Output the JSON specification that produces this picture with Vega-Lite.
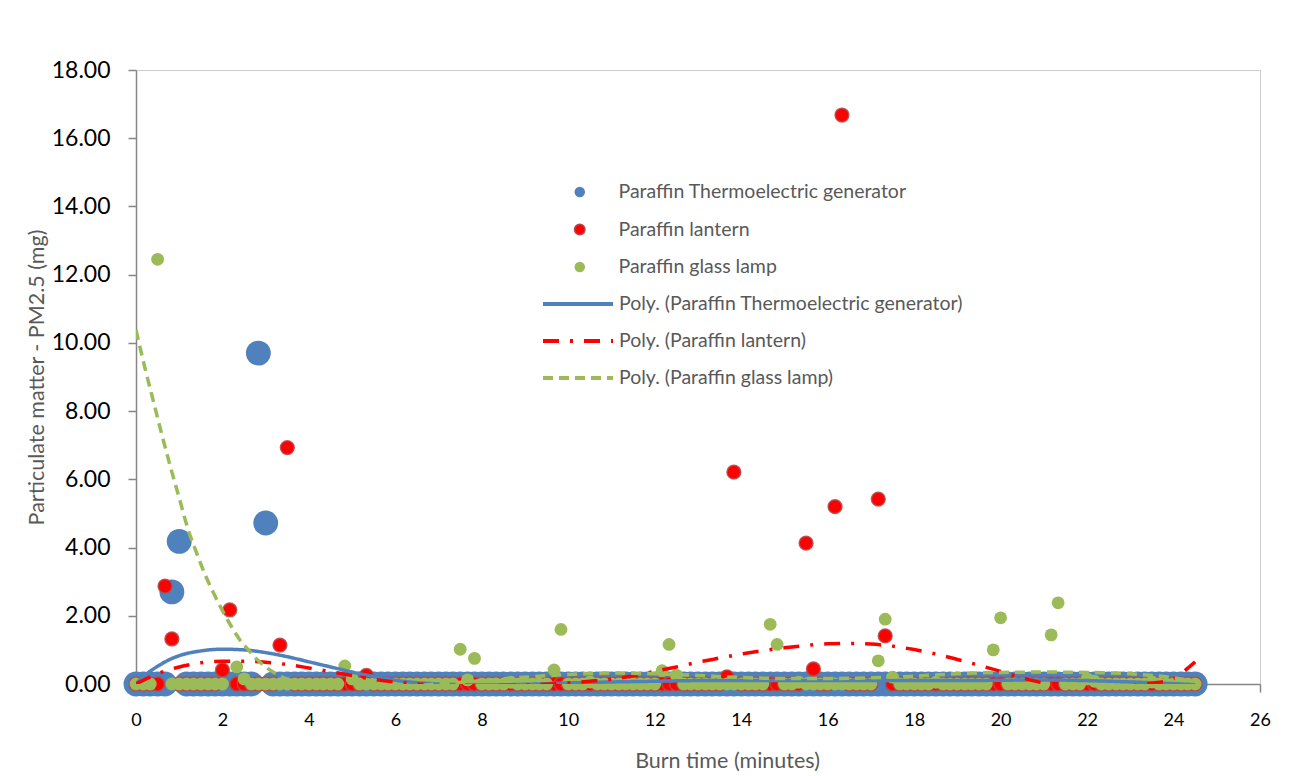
{
"$schema":"https://vega.github.io/schema/vega-lite/v6.json",
"width":1124,"height":614,
"autosize":{"type":"none"},
"padding":{"left":136,"top":70,"right":32,"bottom":92},
"background":"#ffffff",
"config":{
 "font":"Lato",
 "view":{"stroke":"#9A9A9A","strokeDash":[1,1],"strokeWidth":1},
 "axis":{"grid":false,"domainColor":"#868686","domainWidth":1.5,"tickColor":"#868686","tickWidth":1.5,"tickSize":8,"labelFont":"Lato","labelColor":"#000000","titleFont":"Lato","titleColor":"#595959","titleFontSize":21.5,"titleFontWeight":"normal","labelFlush":false,"labelOverlap":false},
 "axisX":{"labelFontSize":18,"labelPadding":19,"titlePadding":21,"titleX":591},
 "axisY":{"labelFontSize":23,"labelPadding":18,"titlePadding":3}
},
"datasets":{
"teg":[{"t":0,"v":0},{"t":0.17,"v":0},{"t":0.33,"v":0},{"t":0.5,"v":0},{"t":0.67,"v":0},{"t":0.83,"v":2.7},{"t":1,"v":4.18},{"t":1.17,"v":0},{"t":1.33,"v":0},{"t":1.5,"v":0},{"t":1.67,"v":0},{"t":1.83,"v":0},{"t":2,"v":0},{"t":2.17,"v":0},{"t":2.33,"v":0},{"t":2.5,"v":0},{"t":2.67,"v":0},{"t":2.83,"v":9.7},{"t":3,"v":4.72},{"t":3.17,"v":0},{"t":3.33,"v":0},{"t":3.5,"v":0},{"t":3.67,"v":0},{"t":3.83,"v":0},{"t":4,"v":0},{"t":4.17,"v":0},{"t":4.33,"v":0},{"t":4.5,"v":0},{"t":4.67,"v":0},{"t":4.83,"v":0},{"t":5,"v":0},{"t":5.17,"v":0},{"t":5.33,"v":0},{"t":5.5,"v":0},{"t":5.67,"v":0},{"t":5.83,"v":0},{"t":6,"v":0},{"t":6.17,"v":0},{"t":6.33,"v":0},{"t":6.5,"v":0},{"t":6.67,"v":0},{"t":6.83,"v":0},{"t":7,"v":0},{"t":7.17,"v":0},{"t":7.33,"v":0},{"t":7.5,"v":0},{"t":7.67,"v":0},{"t":7.83,"v":0},{"t":8,"v":0},{"t":8.17,"v":0},{"t":8.33,"v":0},{"t":8.5,"v":0},{"t":8.67,"v":0},{"t":8.83,"v":0},{"t":9,"v":0},{"t":9.17,"v":0},{"t":9.33,"v":0},{"t":9.5,"v":0},{"t":9.67,"v":0},{"t":9.83,"v":0},{"t":10,"v":0},{"t":10.17,"v":0},{"t":10.33,"v":0},{"t":10.5,"v":0},{"t":10.67,"v":0},{"t":10.83,"v":0},{"t":11,"v":0},{"t":11.17,"v":0},{"t":11.33,"v":0},{"t":11.5,"v":0},{"t":11.67,"v":0},{"t":11.83,"v":0},{"t":12,"v":0},{"t":12.17,"v":0},{"t":12.33,"v":0},{"t":12.5,"v":0},{"t":12.67,"v":0},{"t":12.83,"v":0},{"t":13,"v":0},{"t":13.17,"v":0},{"t":13.33,"v":0},{"t":13.5,"v":0},{"t":13.67,"v":0},{"t":13.83,"v":0},{"t":14,"v":0},{"t":14.17,"v":0},{"t":14.33,"v":0},{"t":14.5,"v":0},{"t":14.67,"v":0},{"t":14.83,"v":0},{"t":15,"v":0},{"t":15.17,"v":0},{"t":15.33,"v":0},{"t":15.5,"v":0},{"t":15.67,"v":0},{"t":15.83,"v":0},{"t":16,"v":0},{"t":16.17,"v":0},{"t":16.33,"v":0},{"t":16.5,"v":0},{"t":16.67,"v":0},{"t":16.83,"v":0},{"t":17,"v":0},{"t":17.17,"v":0},{"t":17.33,"v":0},{"t":17.5,"v":0},{"t":17.67,"v":0},{"t":17.83,"v":0},{"t":18,"v":0},{"t":18.17,"v":0},{"t":18.33,"v":0},{"t":18.5,"v":0},{"t":18.67,"v":0},{"t":18.83,"v":0},{"t":19,"v":0},{"t":19.17,"v":0},{"t":19.33,"v":0},{"t":19.5,"v":0},{"t":19.67,"v":0},{"t":19.83,"v":0},{"t":20,"v":0},{"t":20.17,"v":0},{"t":20.33,"v":0},{"t":20.5,"v":0},{"t":20.67,"v":0},{"t":20.83,"v":0},{"t":21,"v":0},{"t":21.17,"v":0},{"t":21.33,"v":0},{"t":21.5,"v":0},{"t":21.67,"v":0},{"t":21.83,"v":0},{"t":22,"v":0},{"t":22.17,"v":0},{"t":22.33,"v":0},{"t":22.5,"v":0},{"t":22.67,"v":0},{"t":22.83,"v":0},{"t":23,"v":0},{"t":23.17,"v":0},{"t":23.33,"v":0},{"t":23.5,"v":0},{"t":23.67,"v":0},{"t":23.83,"v":0},{"t":24,"v":0},{"t":24.17,"v":0},{"t":24.33,"v":0},{"t":24.5,"v":0}],
"lantern":[{"t":0,"v":0},{"t":0.17,"v":0},{"t":0.33,"v":0},{"t":0.5,"v":0},{"t":0.67,"v":2.87},{"t":0.83,"v":1.32},{"t":1,"v":0},{"t":1.17,"v":0},{"t":1.33,"v":0},{"t":1.5,"v":0},{"t":1.67,"v":0},{"t":1.83,"v":0},{"t":2,"v":0.41},{"t":2.17,"v":2.17},{"t":2.33,"v":0},{"t":2.5,"v":0},{"t":2.67,"v":0},{"t":2.83,"v":0},{"t":3,"v":0},{"t":3.17,"v":0},{"t":3.33,"v":1.14},{"t":3.5,"v":6.93},{"t":3.67,"v":0},{"t":3.83,"v":0},{"t":4,"v":0},{"t":4.17,"v":0},{"t":4.33,"v":0},{"t":4.5,"v":0},{"t":4.67,"v":0},{"t":4.83,"v":0},{"t":5,"v":0},{"t":5.17,"v":0},{"t":5.33,"v":0.25},{"t":5.5,"v":0},{"t":5.67,"v":0},{"t":5.83,"v":0},{"t":6,"v":0},{"t":6.17,"v":0},{"t":6.33,"v":0},{"t":6.5,"v":0},{"t":6.67,"v":0},{"t":6.83,"v":0},{"t":7,"v":0},{"t":7.17,"v":0},{"t":7.33,"v":0},{"t":7.5,"v":0},{"t":7.67,"v":0},{"t":7.83,"v":0},{"t":8,"v":0},{"t":8.17,"v":0},{"t":8.33,"v":0},{"t":8.5,"v":0},{"t":8.67,"v":0},{"t":8.83,"v":0},{"t":9,"v":0},{"t":9.17,"v":0},{"t":9.33,"v":0},{"t":9.5,"v":0},{"t":9.67,"v":0},{"t":9.83,"v":0},{"t":10,"v":0},{"t":10.17,"v":0},{"t":10.33,"v":0},{"t":10.5,"v":0},{"t":10.67,"v":0},{"t":10.83,"v":0},{"t":11,"v":0},{"t":11.17,"v":0},{"t":11.33,"v":0},{"t":11.5,"v":0},{"t":11.67,"v":0},{"t":11.83,"v":0},{"t":12,"v":0},{"t":12.17,"v":0},{"t":12.33,"v":0},{"t":12.5,"v":0},{"t":12.67,"v":0},{"t":12.83,"v":0},{"t":13,"v":0},{"t":13.17,"v":0},{"t":13.33,"v":0},{"t":13.5,"v":0},{"t":13.67,"v":0.21},{"t":13.83,"v":6.21},{"t":14,"v":0},{"t":14.17,"v":0},{"t":14.33,"v":0},{"t":14.5,"v":0},{"t":14.67,"v":0},{"t":14.83,"v":0},{"t":15,"v":0},{"t":15.17,"v":0},{"t":15.33,"v":0},{"t":15.5,"v":4.13},{"t":15.67,"v":0.44},{"t":15.83,"v":0},{"t":16,"v":0},{"t":16.17,"v":5.2},{"t":16.33,"v":16.68},{"t":16.5,"v":0},{"t":16.67,"v":0},{"t":16.83,"v":0},{"t":17,"v":0},{"t":17.17,"v":5.42},{"t":17.33,"v":1.41},{"t":17.5,"v":0},{"t":17.67,"v":0},{"t":17.83,"v":0},{"t":18,"v":0},{"t":18.17,"v":0},{"t":18.33,"v":0},{"t":18.5,"v":0},{"t":18.67,"v":0},{"t":18.83,"v":0},{"t":19,"v":0},{"t":19.17,"v":0},{"t":19.33,"v":0},{"t":19.5,"v":0},{"t":19.67,"v":0},{"t":19.83,"v":0},{"t":20,"v":0},{"t":20.17,"v":0},{"t":20.33,"v":0},{"t":20.5,"v":0},{"t":20.67,"v":0},{"t":20.83,"v":0},{"t":21,"v":0},{"t":21.17,"v":0},{"t":21.33,"v":0},{"t":21.5,"v":0},{"t":21.67,"v":0},{"t":21.83,"v":0},{"t":22,"v":0},{"t":22.17,"v":0},{"t":22.33,"v":0},{"t":22.5,"v":0},{"t":22.67,"v":0},{"t":22.83,"v":0},{"t":23,"v":0},{"t":23.17,"v":0},{"t":23.33,"v":0},{"t":23.5,"v":0},{"t":23.67,"v":0},{"t":23.83,"v":0},{"t":24,"v":0},{"t":24.17,"v":0},{"t":24.33,"v":0},{"t":24.5,"v":0}],
"glass":[{"t":0,"v":0},{"t":0.17,"v":0},{"t":0.33,"v":0},{"t":0.5,"v":12.45},{"t":0.83,"v":0},{"t":1,"v":0},{"t":1.17,"v":0},{"t":1.33,"v":0},{"t":1.5,"v":0},{"t":1.67,"v":0},{"t":1.83,"v":0},{"t":2,"v":0},{"t":2.33,"v":0.5},{"t":2.5,"v":0.15},{"t":2.67,"v":0},{"t":2.83,"v":0},{"t":3,"v":0},{"t":3.17,"v":0},{"t":3.33,"v":0},{"t":3.5,"v":0},{"t":3.67,"v":0},{"t":3.83,"v":0},{"t":4,"v":0},{"t":4.17,"v":0},{"t":4.33,"v":0},{"t":4.5,"v":0},{"t":4.67,"v":0},{"t":4.83,"v":0.53},{"t":5,"v":0.15},{"t":5.17,"v":0},{"t":5.33,"v":0},{"t":5.5,"v":0},{"t":5.67,"v":0},{"t":5.83,"v":0},{"t":6,"v":0},{"t":6.17,"v":0},{"t":6.33,"v":0},{"t":6.5,"v":0},{"t":6.67,"v":0},{"t":6.83,"v":0},{"t":7,"v":0},{"t":7.17,"v":0},{"t":7.33,"v":0},{"t":7.5,"v":1.02},{"t":7.67,"v":0.12},{"t":7.83,"v":0.75},{"t":8,"v":0},{"t":8.17,"v":0},{"t":8.33,"v":0},{"t":8.5,"v":0},{"t":8.67,"v":0.05},{"t":8.83,"v":0},{"t":9,"v":0},{"t":9.17,"v":0},{"t":9.33,"v":0},{"t":9.5,"v":0},{"t":9.67,"v":0.41},{"t":9.83,"v":1.6},{"t":10,"v":0},{"t":10.17,"v":0},{"t":10.33,"v":0},{"t":10.5,"v":0.06},{"t":10.67,"v":0},{"t":10.83,"v":0},{"t":11,"v":0},{"t":11.17,"v":0},{"t":11.33,"v":0},{"t":11.5,"v":0},{"t":11.67,"v":0},{"t":11.83,"v":0},{"t":12,"v":0},{"t":12.17,"v":0.39},{"t":12.33,"v":1.16},{"t":12.5,"v":0.26},{"t":12.67,"v":0},{"t":12.83,"v":0},{"t":13,"v":0},{"t":13.17,"v":0},{"t":13.33,"v":0},{"t":13.5,"v":0},{"t":13.67,"v":0},{"t":13.83,"v":0},{"t":14,"v":0},{"t":14.17,"v":0},{"t":14.33,"v":0},{"t":14.5,"v":0},{"t":14.67,"v":1.75},{"t":14.83,"v":1.16},{"t":15,"v":0},{"t":15.17,"v":0},{"t":15.33,"v":0.05},{"t":15.5,"v":0},{"t":15.67,"v":0},{"t":15.83,"v":0},{"t":16,"v":0},{"t":16.17,"v":0},{"t":16.33,"v":0},{"t":16.5,"v":0},{"t":16.67,"v":0},{"t":16.83,"v":0},{"t":17,"v":0},{"t":17.17,"v":0.68},{"t":17.33,"v":1.9},{"t":17.5,"v":0.2},{"t":17.67,"v":0},{"t":17.83,"v":0},{"t":18,"v":0},{"t":18.17,"v":0},{"t":18.33,"v":0},{"t":18.5,"v":0.05},{"t":18.67,"v":0},{"t":18.83,"v":0},{"t":19,"v":0},{"t":19.17,"v":0},{"t":19.33,"v":0},{"t":19.5,"v":0},{"t":19.67,"v":0},{"t":19.83,"v":1.0},{"t":20,"v":1.94},{"t":20.17,"v":0},{"t":20.33,"v":0},{"t":20.5,"v":0},{"t":20.67,"v":0},{"t":20.83,"v":0},{"t":21,"v":0},{"t":21.17,"v":1.44},{"t":21.33,"v":2.38},{"t":21.5,"v":0},{"t":21.67,"v":0},{"t":21.83,"v":0},{"t":22,"v":0.15},{"t":22.17,"v":0.08},{"t":22.33,"v":0},{"t":22.5,"v":0},{"t":22.67,"v":0},{"t":22.83,"v":0},{"t":23,"v":0},{"t":23.17,"v":0},{"t":23.33,"v":0},{"t":23.5,"v":0.06},{"t":23.67,"v":0},{"t":23.83,"v":0},{"t":24,"v":0},{"t":24.17,"v":0},{"t":24.33,"v":0},{"t":24.5,"v":0}],
"trend":[
{"p":"TEG","t":0,"v":0},{"p":"TEG","t":0.25,"v":0.3},{"p":"TEG","t":0.5,"v":0.52},{"p":"TEG","t":0.75,"v":0.7},{"p":"TEG","t":1,"v":0.83},{"p":"TEG","t":1.5,"v":0.97},{"p":"TEG","t":2,"v":1.02},{"p":"TEG","t":2.5,"v":1.0},{"p":"TEG","t":3,"v":0.92},{"p":"TEG","t":3.5,"v":0.8},{"p":"TEG","t":4,"v":0.65},{"p":"TEG","t":4.5,"v":0.5},{"p":"TEG","t":5,"v":0.35},{"p":"TEG","t":5.5,"v":0.22},{"p":"TEG","t":6,"v":0.11},{"p":"TEG","t":6.5,"v":0.04},{"p":"TEG","t":7,"v":0},{"p":"TEG","t":7.5,"v":-0.02},{"p":"TEG","t":8,"v":-0.03},{"p":"TEG","t":9,"v":-0.01},{"p":"TEG","t":10,"v":0.03},{"p":"TEG","t":11,"v":0.06},{"p":"TEG","t":12,"v":0.08},{"p":"TEG","t":13,"v":0.1},{"p":"TEG","t":14,"v":0.1},{"p":"TEG","t":15,"v":0.1},{"p":"TEG","t":16,"v":0.1},{"p":"TEG","t":17,"v":0.1},{"p":"TEG","t":18,"v":0.1},{"p":"TEG","t":19,"v":0.1},{"p":"TEG","t":20,"v":0.11},{"p":"TEG","t":21,"v":0.12},{"p":"TEG","t":22,"v":0.1},{"p":"TEG","t":23,"v":0.06},{"p":"TEG","t":24,"v":0.01},{"p":"TEG","t":24.5,"v":-0.02},
{"p":"Lantern","t":0,"v":0},{"p":"Lantern","t":0.5,"v":0.3},{"p":"Lantern","t":1,"v":0.5},{"p":"Lantern","t":1.5,"v":0.62},{"p":"Lantern","t":2,"v":0.67},{"p":"Lantern","t":2.5,"v":0.67},{"p":"Lantern","t":3,"v":0.64},{"p":"Lantern","t":3.5,"v":0.57},{"p":"Lantern","t":4,"v":0.47},{"p":"Lantern","t":4.5,"v":0.36},{"p":"Lantern","t":5,"v":0.25},{"p":"Lantern","t":5.5,"v":0.14},{"p":"Lantern","t":6,"v":0.06},{"p":"Lantern","t":6.5,"v":0},{"p":"Lantern","t":7,"v":-0.04},{"p":"Lantern","t":8,"v":-0.05},{"p":"Lantern","t":9,"v":-0.03},{"p":"Lantern","t":10,"v":0.03},{"p":"Lantern","t":10.5,"v":0.08},{"p":"Lantern","t":11,"v":0.14},{"p":"Lantern","t":11.5,"v":0.24},{"p":"Lantern","t":12,"v":0.37},{"p":"Lantern","t":12.5,"v":0.5},{"p":"Lantern","t":13,"v":0.64},{"p":"Lantern","t":13.5,"v":0.76},{"p":"Lantern","t":14,"v":0.88},{"p":"Lantern","t":14.5,"v":0.98},{"p":"Lantern","t":15,"v":1.06},{"p":"Lantern","t":15.5,"v":1.13},{"p":"Lantern","t":16,"v":1.18},{"p":"Lantern","t":16.5,"v":1.19},{"p":"Lantern","t":17,"v":1.17},{"p":"Lantern","t":17.5,"v":1.11},{"p":"Lantern","t":18,"v":1.01},{"p":"Lantern","t":18.5,"v":0.88},{"p":"Lantern","t":19,"v":0.72},{"p":"Lantern","t":19.5,"v":0.55},{"p":"Lantern","t":20,"v":0.37},{"p":"Lantern","t":20.5,"v":0.18},{"p":"Lantern","t":21,"v":0.03},{"p":"Lantern","t":21.5,"v":-0.05},{"p":"Lantern","t":22,"v":-0.08},{"p":"Lantern","t":22.5,"v":-0.08},{"p":"Lantern","t":23,"v":-0.05},{"p":"Lantern","t":23.5,"v":0.02},{"p":"Lantern","t":24,"v":0.15},{"p":"Lantern","t":24.25,"v":0.38},{"p":"Lantern","t":24.5,"v":0.65},
{"p":"Glass","t":0,"v":10.38},{"p":"Glass","t":0.2,"v":9.3},{"p":"Glass","t":0.4,"v":8.3},{"p":"Glass","t":0.6,"v":7.3},{"p":"Glass","t":0.8,"v":6.35},{"p":"Glass","t":1,"v":5.45},{"p":"Glass","t":1.2,"v":4.55},{"p":"Glass","t":1.4,"v":3.85},{"p":"Glass","t":1.6,"v":3.2},{"p":"Glass","t":1.8,"v":2.65},{"p":"Glass","t":2,"v":2.15},{"p":"Glass","t":2.2,"v":1.7},{"p":"Glass","t":2.4,"v":1.3},{"p":"Glass","t":2.6,"v":1.0},{"p":"Glass","t":2.8,"v":0.72},{"p":"Glass","t":3,"v":0.5},{"p":"Glass","t":3.2,"v":0.33},{"p":"Glass","t":3.5,"v":0.14},{"p":"Glass","t":4,"v":0},{"p":"Glass","t":4.5,"v":-0.08},{"p":"Glass","t":5,"v":-0.1},{"p":"Glass","t":6,"v":-0.08},{"p":"Glass","t":7,"v":0},{"p":"Glass","t":8,"v":0.1},{"p":"Glass","t":9,"v":0.2},{"p":"Glass","t":10,"v":0.28},{"p":"Glass","t":11,"v":0.32},{"p":"Glass","t":12,"v":0.3},{"p":"Glass","t":13,"v":0.25},{"p":"Glass","t":14,"v":0.19},{"p":"Glass","t":15,"v":0.16},{"p":"Glass","t":16,"v":0.16},{"p":"Glass","t":17,"v":0.18},{"p":"Glass","t":18,"v":0.23},{"p":"Glass","t":19,"v":0.3},{"p":"Glass","t":20,"v":0.34},{"p":"Glass","t":21,"v":0.35},{"p":"Glass","t":22,"v":0.34},{"p":"Glass","t":23,"v":0.3},{"p":"Glass","t":24,"v":0.18},{"p":"Glass","t":24.5,"v":0.08}
]
},
"layer":[
 {"layer":[
  {"data":{"name":"teg"},
   "mark":{"type":"point","filled":true,"size":620,"opacity":1,"shape":"circle"},
   "encoding":{
    "x":{"field":"t","type":"quantitative","scale":{"domain":[0,26],"nice":false,"zero":false},"axis":{"values":[0,2,4,6,8,10,12,14,16,18,20,22,24,26],"title":"Burn time (minutes)"}},
    "y":{"field":"v","type":"quantitative","scale":{"domain":[0,18],"nice":false},"axis":{"values":[0,2,4,6,8,10,12,14,16,18],"format":".2f","title":"Particulate matter - PM2.5 (mg)"}},
    "color":{"datum":"Paraffin Thermoelectric generator","type":"nominal",
      "scale":{"domain":["Paraffin Thermoelectric generator","Paraffin lantern","Paraffin glass lamp"],"range":["#4F81BD","#FF0000","#9BBB59"]},
      "legend":{"orient":"none","legendX":434,"legendY":112,"title":null,"symbolType":"circle","symbolSize":110,"clipHeight":20,"rowPadding":17.5,"labelOffset":29,"labelFont":"Lato","labelFontSize":19.5,"labelColor":"#595959","labelLimit":600,"padding":0,"symbolOpacity":1,
        "encode":{"symbols":{"update":{"stroke":{"signal":"datum.value === 'Paraffin lantern' ? '#B5494A' : 'transparent'"},"strokeWidth":{"value":1.5}}}}}}
   }},
  {"data":{"name":"lantern"},
   "mark":{"type":"point","filled":true,"size":190,"opacity":1,"shape":"circle","stroke":"#B5494A","strokeWidth":1.5,"strokeOpacity":0.85},
   "encoding":{
    "x":{"field":"t","type":"quantitative"},
    "y":{"field":"v","type":"quantitative"},
    "color":{"datum":"Paraffin lantern","type":"nominal"}
   }},
  {"data":{"name":"glass"},
   "mark":{"type":"point","filled":true,"size":165,"opacity":1,"shape":"circle"},
   "encoding":{
    "x":{"field":"t","type":"quantitative"},
    "y":{"field":"v","type":"quantitative"},
    "color":{"datum":"Paraffin glass lamp","type":"nominal"}
   }}
 ]},
 {"data":{"name":"trend"},
  "mark":{"type":"line","strokeWidth":3.5,"clip":true,"interpolate":"monotone"},
  "encoding":{
   "x":{"field":"t","type":"quantitative"},
   "y":{"field":"v","type":"quantitative"},
   "color":{"field":"p","type":"nominal","sort":null,
     "scale":{"domain":["TEG","Lantern","Glass"],"range":["#4F81BD","#FF0000","#9BBB59"]},
     "legend":{"orient":"none","legendX":405,"legendY":224,"title":null,"symbolType":"stroke","symbolSize":4900,"symbolStrokeWidth":4,"clipHeight":20,"rowPadding":17,"labelOffset":4,"labelFont":"Lato","labelFontSize":19.5,"labelColor":"#595959","labelLimit":600,"padding":0,
       "labelExpr":"datum.label === 'TEG' ? 'Poly. (Paraffin Thermoelectric generator)' : datum.label === 'Lantern' ? 'Poly. (Paraffin lantern)' : 'Poly. (Paraffin glass lamp)'",
       "encode":{"symbols":{"update":{"strokeDash":{"signal":"datum.value === 'Lantern' ? [16,11,3,11] : datum.value === 'Glass' ? [10,6] : [1,0]"}}}}}},
   "strokeDash":{"field":"p","type":"nominal","sort":null,
     "scale":{"domain":["TEG","Lantern","Glass"],"range":[[1,0],[16,11,3,11],[10,6]]},
     "legend":null}
  }}
],
"resolve":{"scale":{"color":"independent"}}
}
